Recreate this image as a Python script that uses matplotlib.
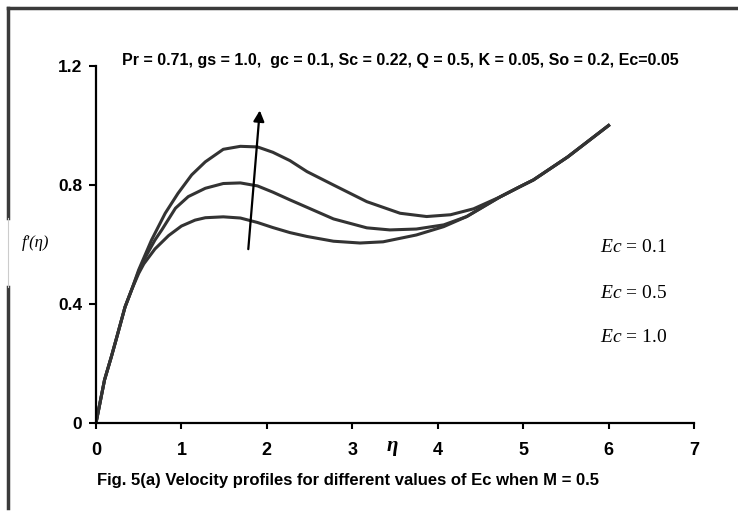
import numpy as np
import matplotlib
matplotlib.use('Agg')
import matplotlib.pyplot as plt
from matplotlib.lines import Line2D

plt.rcParams['mathtext.fontset'] = 'custom'
plt.rcParams['mathtext.rm'] = 'Liberation Serif'
plt.rcParams['mathtext.it'] = 'Liberation Serif:italic'

# values (eta, f'(eta)) for each Ec
eta_ec10 = [0, 0.10, 0.18, 0.24, 0.34, 0.42, 0.50, 0.56, 0.65, 0.81, 0.96, 1.12, 1.28, 1.49,
            1.69, 1.89, 2.07, 2.27, 2.47, 2.78, 3.17, 3.56, 3.87, 4.15, 4.42, 4.73, 4.96,
            5.12, 5.52, 6.0]
f_ec10 = [0, 0.145, 0.223, 0.285, 0.39, 0.45, 0.515, 0.555, 0.615, 0.705, 0.772, 0.834,
          0.878, 0.92, 0.93, 0.928, 0.91, 0.882, 0.845, 0.80, 0.744, 0.705, 0.694, 0.70,
          0.72, 0.76, 0.794, 0.817, 0.894, 1.0]

eta_ec05 = [0, 0.10, 0.18, 0.24, 0.34, 0.42, 0.50, 0.56, 0.69, 0.77, 0.93, 1.08, 1.28, 1.49,
            1.69, 1.89, 2.07, 2.27, 2.39, 2.78, 3.17, 3.44, 3.75, 4.07, 4.34, 4.57, 4.73,
            4.96, 5.12, 5.52, 6.0]
f_ec05 = [0, 0.145, 0.223, 0.285, 0.39, 0.45, 0.51, 0.548, 0.615, 0.649, 0.722, 0.761,
          0.789, 0.805, 0.807, 0.797, 0.776, 0.75, 0.735, 0.686, 0.656, 0.649, 0.652,
          0.666, 0.694, 0.733, 0.76, 0.794, 0.817, 0.894, 1.0]

eta_ec01 = [0, 0.10, 0.18, 0.24, 0.34, 0.42, 0.50, 0.56, 0.69, 0.85, 1.00, 1.16, 1.28, 1.49,
            1.69, 1.89, 2.07, 2.27, 2.47, 2.78, 3.09, 3.36, 3.75, 4.07, 4.34, 4.57, 4.73,
            4.96, 5.12, 5.52, 6.0]
f_ec01 = [0, 0.145, 0.223, 0.285, 0.39, 0.45, 0.503, 0.535, 0.585, 0.63, 0.662, 0.682,
          0.69, 0.693, 0.689, 0.674, 0.657, 0.64, 0.627, 0.611, 0.605, 0.609, 0.632,
          0.66, 0.694, 0.733, 0.76, 0.794, 0.817, 0.894, 1.0]

ec_labels = [r'$Ec$ = 0.1', r'$Ec$ = 0.5', r'$Ec$ = 1.0']
x_ticks = [0, 1, 2, 3, 4, 5, 6, 7]
y_ticks = [0, 0.4, 0.8, 1.2]
y_ticklabels = ['0', '0.4', '0.8', '1.2']
arrow_start = (1.78, 0.575)
arrow_end = (1.92, 1.06)

title = 'Pr = 0.71, gs = 1.0,  gc = 0.1, Sc = 0.22, Q = 0.5, K = 0.05, So = 0.2, Ec=0.05'
caption = 'Fig. 5(a) Velocity profiles for different values of Ec when M = 0.5'

sans = ['Liberation Sans', 'DejaVu Sans']

fig = plt.figure(figsize=(7.38, 5.18), dpi=100)
ax = fig.add_axes([96/738, 1 - 423/518, (694 - 96)/738, (423 - 66)/518])

for x, f in ((eta_ec01, f_ec01), (eta_ec05, f_ec05), (eta_ec10, f_ec10)):
    ax.plot(x, f, color='#333333', lw=2.2, solid_joinstyle='round')

ax.annotate('', xy=arrow_end, xytext=arrow_start,
            arrowprops=dict(arrowstyle='-|>', color='black', lw=1.6, mutation_scale=16))

ax.set_xlim(0, 7)
ax.set_ylim(0, 1.2)
ax.set_xticks(x_ticks)
ax.set_xticklabels([str(v) for v in x_ticks], fontsize=13, fontweight='bold', family=sans)
ax.set_yticks(y_ticks)
ax.set_yticklabels(y_ticklabels, fontsize=12.5, fontweight='bold', family=sans)
ax.tick_params(axis='x', direction='out', length=4, width=1.5, pad=10)
ax.tick_params(axis='y', direction='out', length=5, width=1.5, pad=5)
for side in ('top', 'right'):
    ax.spines[side].set_visible(False)
for side in ('left', 'bottom'):
    ax.spines[side].set_linewidth(1.6)
    ax.spines[side].set_color('black')

# labels placed in figure coords
fig.text(400/738, 1 - 61/518, title, ha='center', va='center', fontsize=11.5,
         fontweight='bold', family=sans)
fig.text(97/738, 1 - 480/518, caption, ha='left', va='center', fontsize=12,
         fontweight='bold', family=sans)
fig.text(36/738, 1 - 243/518, "f'(η)", ha='center', va='center', fontsize=12,
         style='italic', family='Liberation Serif')
fig.text(392/738, 1 - 446/518, 'η', ha='center', va='center', fontsize=15,
         fontweight='bold', style='italic', family='Liberation Serif')
for lab, ypx in zip(ec_labels, [247, 293, 337]):
    fig.text(600/738, 1 - ypx/518, lab, ha='left', va='center', fontsize=14,
             family='Liberation Serif')

# scanned frame around the figure
frame_kw = dict(color='#3a3a3a', lw=2.5, transform=fig.transFigure)
fig.add_artist(Line2D([8/738, 1], [1 - 8/518, 1 - 8/518], **frame_kw))
fig.add_artist(Line2D([8/738, 8/738], [1 - 8/518, 1 - 218/518], **frame_kw))
fig.add_artist(Line2D([8/738, 8/738], [1 - 287/518, 1 - 508/518], **frame_kw))
fig.add_artist(Line2D([8/738, 8/738], [1 - 218/518, 1 - 287/518], color='#cccccc', lw=0.8,
                      transform=fig.transFigure))

fig.savefig('out.png', dpi=100)
